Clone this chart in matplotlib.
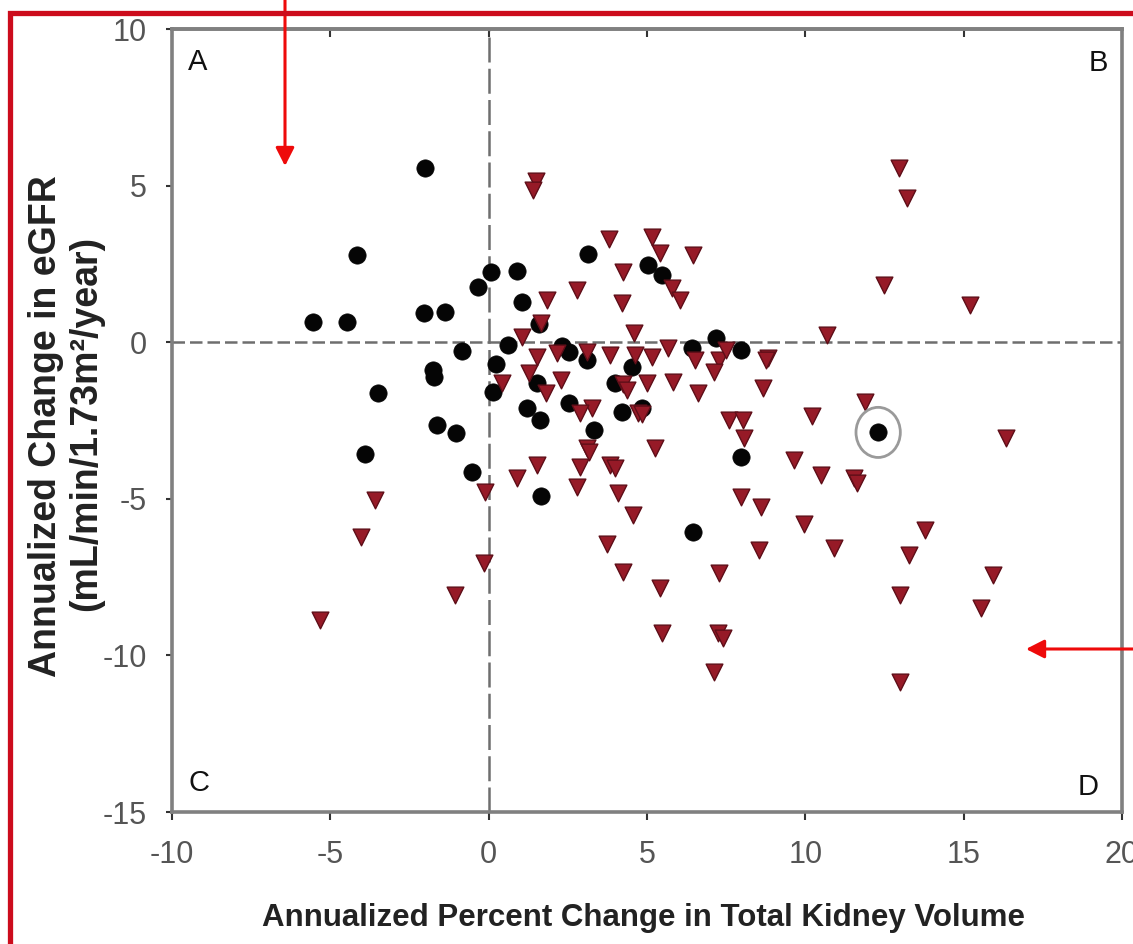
import matplotlib
matplotlib.use("Agg")
import matplotlib.pyplot as plt
from matplotlib.patches import Ellipse, FancyArrowPatch
from matplotlib.lines import Line2D

plt.rcParams['font.family'] = ['Liberation Sans', 'DejaVu Sans']
plt.rcParams['axes.unicode_minus'] = False

# group 1 (black circles): annualized % change in TKV, change in eGFR
tkv_circ = [-5.55, -4.47, -4.17, -2.0, -3.50, -3.89, -2.04, -1.37, -1.75, -1.72,
            -0.83, -1.62, -1.02, -0.54, -0.35, 0.06, 0.89, 1.05, 0.62, 0.22,
            0.15, 1.21, 1.62, 1.59, 1.53, 2.32, 2.55, 2.55, 1.66, 3.15,
            3.12, 3.34, 3.98, 4.20, 4.52, 4.84, 5.03, 5.48, 6.43, 7.17,
            7.96, 7.96, 6.46, 12.3]
egfr_circ = [0.64, 0.64, 2.78, 5.55, -1.63, -3.58, 0.93, 0.95, -0.90, -1.10,
             -0.29, -2.65, -2.91, -4.15, 1.76, 2.24, 2.27, 1.28, -0.10, -0.70,
             -1.60, -2.11, -2.47, 0.57, -1.31, -0.13, -0.32, -1.95, -4.90, 2.81,
             -0.58, -2.81, -1.31, -2.24, -0.80, -2.10, 2.46, 2.14, -0.19, 0.13,
             -0.26, -3.67, -6.07, -2.88]
circled = 43  # index of the highlighted patient

# group 2 (red triangles)
tkv_tri = [1.5, 1.4, 3.79, 5.16, 5.41, 6.46, 4.24, 5.80, 6.05, 4.20,
           2.8, 1.85, 1.66, 4.6, 1.05, 1.53, 2.17, 3.12, 3.82, 4.62,
           5.16, 5.67, 6.53, 7.26, 7.48, 7.10, 8.82, 1.27, 0.41, 2.29,
           4.24, 5.0, 5.83, 4.36, 1.82, 6.62, 8.66, 3.25, 2.87, 4.71,
           4.84, 7.58, 8.03, 8.06, 10.2, 3.12, 5.25, 3.82, 3.98, 2.87,
           1.53, 2.80, 0.89, -0.1, 4.08, 4.55, 3.73, 4.24, 5.41, 5.48,
           7.23, 7.39, 7.10, 7.26, 7.96, 8.60, 9.65, 9.97, 8.55, -3.6,
           -4.04, -5.32, -1.05, -0.16, 3.18, 15.2, 10.67, 8.76, 11.88, 16.34,
           10.51, 11.53, 11.62, 10.89, 13.79, 13.28, 15.92, 15.54, 12.99, 12.99,
           12.96, 13.22, 12.48]
egfr_tri = [5.15, 4.85, 3.30, 3.35, 2.84, 2.78, 2.24, 1.73, 1.34, 1.25,
            1.66, 1.34, 0.60, 0.30, 0.16, -0.48, -0.35, -0.32, -0.42, -0.40,
            -0.48, -0.19, -0.58, -0.58, -0.26, -0.96, -0.51, -0.99, -1.31, -1.21,
            -1.35, -1.31, -1.28, -1.53, -1.63, -1.63, -1.45, -2.11, -2.27, -2.27,
            -2.30, -2.49, -2.49, -3.07, -2.35, -3.39, -3.39, -3.93, -4.03, -3.99,
            -3.93, -4.63, -4.35, -4.79, -4.82, -5.53, -6.45, -7.35, -7.86, -9.30,
            -9.27, -9.46, -10.54, -7.38, -4.95, -5.27, -3.77, -5.82, -6.62, -5.05,
            -6.23, -8.88, -8.08, -7.06, -3.51, 1.18, 0.22, -0.58, -1.92, -3.07,
            -4.25, -4.35, -4.50, -6.58, -6.01, -6.81, -7.44, -8.50, -8.08, -10.86,
            5.56, 4.60, 1.82]

x_ticks = [-10, -5, 0, 5, 10, 15, 20]
y_ticks = [-15, -10, -5, 0, 5, 10]
quadrants = ['A', 'B', 'C', 'D']

W, H = 1133, 944
fig = plt.figure(figsize=(W / 100, H / 100), dpi=100)
ax = fig.add_axes([172 / W, 1 - 812 / H, 950 / W, 783 / H])

ax.axhline(0, color='#6e6e6e', lw=1.8, ls=(0, (5, 2)), zorder=1)
ax.axvline(0, color='#6e6e6e', lw=1.8, ls=(0, (10, 2.5)), zorder=1)

ax.scatter(tkv_circ, egfr_circ, s=155, marker='o', color='#050505',
           edgecolors='#050505', linewidths=0.5, zorder=3)
ax.scatter(tkv_tri, egfr_tri, s=145, marker='v', facecolor='#961a27',
           edgecolors='#5e0e18', linewidths=1.0, zorder=4)

# ring around the highlighted patient
ax.add_patch(Ellipse((tkv_circ[circled], egfr_circ[circled]), 1.4, 1.6,
                     fill=False, edgecolor='#9a9a9a', lw=2, zorder=5))

ax.set_xlim(-10, 20)
ax.set_ylim(-15, 10)
ax.set_xticks(x_ticks)
ax.set_yticks(y_ticks)
ax.tick_params(axis='both', labelsize=22, labelcolor='#555555', color='#333333',
               direction='out', pad=14)
ax.tick_params(axis='x', length=6, width=1.5)
ax.tick_params(axis='y', length=4, width=1.5)
for sp in ax.spines.values():
    sp.set_color('#808080')
    sp.set_linewidth(2.6)

top = ax.secondary_xaxis('top')
top.set_xticks(x_ticks)
top.tick_params(direction='in', length=6, width=1.5, color='#333333', labeltop=False)
top.spines['top'].set_color('#808080')
top.spines['top'].set_linewidth(2.6)

pos = [(0.027, 0.958), (0.975, 0.957), (0.028, 0.037), (0.964, 0.032)]
for lab, (px, py) in zip(quadrants, pos):
    ax.text(px, py, lab, transform=ax.transAxes, fontsize=21, color='#111111',
            ha='center', va='center')

fig.text(0.568, 0.0275, 'Annualized Percent Change in Total Kidney Volume',
         fontsize=22.5, fontweight='bold', color='#222222', ha='center', va='center')
fig.text(46 / W, 0.549, 'Annualized Change in eGFR', rotation=90, fontsize=27,
         fontweight='bold', color='#222222', ha='center', va='center')
fig.text(86 / W, 0.551, '(mL/min/1.73m\u00b2/year)', rotation=90, fontsize=27,
         fontweight='bold', color='#222222', ha='center', va='center')

# red frame and pointer arrows
red = '#cc0c1c'
fig.add_artist(Line2D([10.5 / W, 10.5 / W, 1.01], [-0.01, 1 - 12.5 / H, 1 - 12.5 / H],
                      transform=fig.transFigure, color=red, lw=3.8,
                      solid_joinstyle='miter'))
for (x0, y0), (x1, y1) in [((285, 0), (285, 166)), ((1140, 649), (1026, 649))]:
    fig.add_artist(FancyArrowPatch((x0 / W, 1 - y0 / H), (x1 / W, 1 - y1 / H),
                                   transform=fig.transFigure,
                                   arrowstyle='-|>,head_length=0.55,head_width=0.28',
                                   mutation_scale=20, color='#ee0a0a', lw=2.2,
                                   shrinkA=0, shrinkB=0))

fig.savefig('out.png', dpi=100)
